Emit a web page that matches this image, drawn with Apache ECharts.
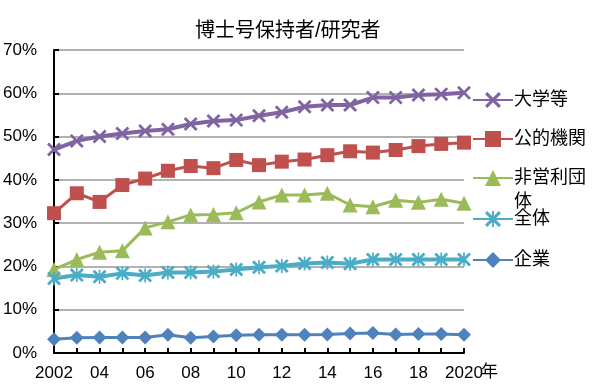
<!DOCTYPE html>
<html><head><meta charset="utf-8">
<script src="https://cdn.jsdelivr.net/npm/echarts@6/dist/echarts.min.js"></script>
<style>html,body{margin:0;padding:0;background:#fff}#c{width:600px;height:391px}</style>
</head><body><div id="c"></div>
<script>
const years = ['2002','2003','2004','2005','2006','2007','2008','2009','2010','2011','2012','2013','2014','2015','2016','2017','2018','2019','2020'];
const tickLabels = ['2002','','04','','06','','08','','10','','12','','14','','16','','18','','2020'];
const univ = [47.0,49.0,50.0,50.7,51.3,51.7,52.9,53.6,53.8,54.8,55.6,56.9,57.3,57.3,59.0,59.0,59.6,59.8,60.1];
const publicInst = [32.3,36.9,34.9,38.8,40.3,42.1,43.2,42.7,44.6,43.4,44.2,44.7,45.7,46.6,46.3,46.9,47.8,48.3,48.6];
const nonprofit = [19.3,21.6,23.3,23.6,28.9,30.3,31.9,32.0,32.4,34.9,36.5,36.5,36.9,34.2,33.8,35.3,34.8,35.5,34.6];
const overall = [17.2,18.0,17.6,18.4,17.9,18.6,18.6,18.8,19.3,19.8,20.1,20.7,20.9,20.6,21.6,21.6,21.6,21.6,21.6];
const company = [3.2,3.5,3.6,3.6,3.6,4.2,3.5,3.8,4.1,4.2,4.2,4.2,4.3,4.5,4.6,4.3,4.4,4.4,4.2];
const yTicks = [0,10,20,30,40,50,60,70];
const names = ['大学等','公的機関','非営利団体','全体','企業'];

const FONT = 'Arial, "Liberation Sans", "Noto Sans CJK JP", sans-serif';
const xPath = 'path://M0,1.4 L1.4,0 L10,8.6 L8.6,10 Z M8.6,0 L10,1.4 L1.4,10 L0,8.6 Z';
const starPath = 'path://M0,1.4 L1.4,0 L10,8.6 L8.6,10 Z M8.6,0 L10,1.4 L1.4,10 L0,8.6 Z M4.4,0 L5.6,0 L5.6,10 L4.4,10 Z';

function ser(name, data, color, symbol, size, width) {
  return { name, type: 'line', data, color, symbol, symbolSize: size, showSymbol: true,
    lineStyle: { color, width }, itemStyle: { color }, z: 3, animation: false };
}
const series = [
  ser(names[0], univ, '#8064A2', xPath, 14, 4),
  ser(names[1], publicInst, '#C0504D', 'rect', 14, 3),
  ser(names[2], nonprofit, '#9BBB59', 'triangle', 15, 3),
  ser(names[3], overall, '#4BACC6', starPath, 14, 4),
  ser(names[4], company, '#4F81BD', 'diamond', 14, 3)
];
const legendCenters = [101, 140, 179, 220, 261];
const legendLabels = ['大学等','公的機関','非営利団','全体','企業'];
const legends = names.map((n, i) => ({
  data: [n], left: 472, top: legendCenters[i] - 10, padding: 0, itemWidth: 40, itemHeight: 20, itemGap: 0,
  formatter: () => legendLabels[i], selectedMode: false,
  textStyle: { fontSize: 18, color: '#000', fontFamily: FONT, padding: [0,0,0,-4] }
}));

const chart = echarts.init(document.getElementById('c'));
chart.setOption({
  animation: false,
  backgroundColor: '#fff',
  title: { text: '博士号保持者/研究者', left: 190, top: 16,
    textStyle: { fontSize: 20, fontWeight: 'normal', color: '#000', fontFamily: FONT } },
  legend: legends,
  graphic: [
    { type: 'text', left: 514, top: 193, style: { text: '体', fontSize: 18, fill: '#000', fontFamily: FONT } },
    { type: 'text', left: 481, top: 364, z: 10, style: { text: '年', fontSize: 17, fill: '#000', fontFamily: FONT } }
  ],
  grid: { left: 50, right: 136, top: 50, bottom: 38, containLabel: false },
  xAxis: {
    type: 'category', data: years, boundaryGap: false,
    axisLine: { lineStyle: { color: '#000', width: 2 } },
    axisTick: { inside: true, interval: 0, length: 5, lineStyle: { color: '#000', width: 2 } },
    axisLabel: { interval: 0, formatter: (v, i) => tickLabels[i], fontSize: 17, color: '#000', fontFamily: FONT, margin: 12 },
    splitLine: { show: false }
  },
  yAxis: {
    type: 'value', min: yTicks[0], max: yTicks[yTicks.length-1], interval: 10,
    axisLine: { show: true, lineStyle: { color: '#000', width: 2 } },
    axisTick: { show: true, inside: true, length: 5, lineStyle: { color: '#000', width: 2 } },
    axisLabel: { formatter: v => v + '%', fontSize: 17, color: '#000', fontFamily: FONT, margin: 17 },
    splitLine: { show: true, lineStyle: { color: '#999', width: 1.5 } }
  },
  series
});
</script></body></html>
